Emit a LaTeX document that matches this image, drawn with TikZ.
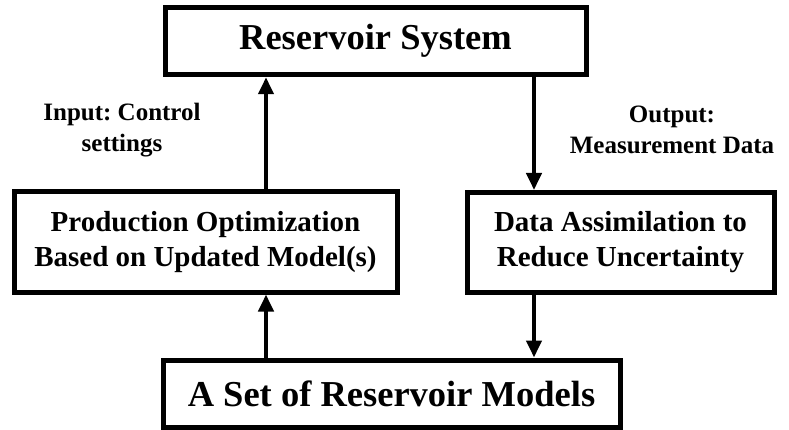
\documentclass[tikz,border=0pt]{standalone}
\usepackage{fontspec}
\setmainfont{Liberation Serif}
\frenchspacing
\usetikzlibrary{arrows.meta}
\begin{document}
\begin{tikzpicture}[x=1pt,y=-1pt,
  box/.style={draw=black,line width=5pt,inner sep=0pt,align=center,font=\bfseries},
  bigtxt/.style={font=\fontsize{36.5}{42}\selectfont\bfseries},
  midtxt/.style={font=\fontsize{29}{35}\selectfont\bfseries},
  lbl/.style={align=center,inner sep=0pt,font=\fontsize{25}{31}\selectfont\bfseries},
  arr/.style={line width=4pt,-{Triangle[length=17pt,width=15pt]}}]
\useasboundingbox[fill=white] (0,0) rectangle (789,430);
\node[box,bigtxt,minimum width=421pt,minimum height=67.5pt] (top) at (375.5,41) {Reservoir System};
\node[box,midtxt,minimum width=383pt,minimum height=100pt] (lft) at (205.5,242) {Production Optimization\\Based on Updated Model(s)};
\node[box,midtxt,minimum width=307pt,minimum height=100pt] (rgt) at (620.5,242.5) {Data Assimilation to\\Reduce Uncertainty};
\node[box,bigtxt,minimum width=457pt,minimum height=67pt] (bot) at (391.5,393.5) {A Set of Reservoir Models};
\coordinate (lx) at (266,0);
\coordinate (rx) at (534,0);
\draw[arr] (lft.north -| lx) -- (top.south -| lx);
\draw[arr] (bot.north -| lx) -- (lft.south -| lx);
\draw[arr] (top.south -| rx) -- (rgt.north -| rx);
\draw[arr] (rgt.south -| rx) -- (bot.north -| rx);
\node[lbl] (inl) at (122,130) {Input: Control\\settings};
\node[lbl] (outl) at (672,130) {Output:\\Measurement Data};
\end{tikzpicture}
\end{document}
